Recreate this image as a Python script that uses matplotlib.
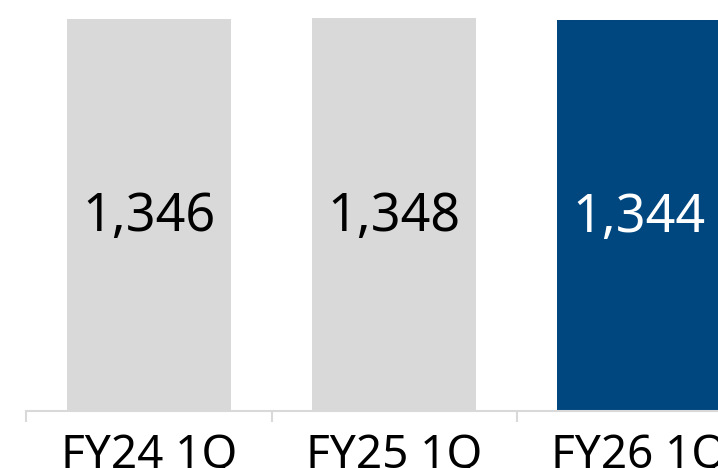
import matplotlib
matplotlib.use('Agg')
from matplotlib import pyplot as plt

categories = ['FY24 1Q', 'FY25 1Q', 'FY26 1Q']
values = [1346, 1348, 1344]
bar_colors = ['#d9d9d9', '#d9d9d9', '#00467f']
label_colors = ['#000000', '#000000', '#ffffff']

plt.rcParams['font.family'] = ['Noto Sans', 'DejaVu Sans']

fig = plt.figure(figsize=(7.18, 4.68), dpi=100)
# axes runs past the right edge of the figure, like the reference crop
ax = fig.add_axes([26.5 / 718, 57 / 468, 735 / 718, 411 / 468])

x = range(len(categories))
ax.bar(x, values, width=0.67, color=bar_colors)
for i, v in enumerate(values):
	ax.annotate(f'{v:,}', (i, v / 2), xytext=(0, -2), textcoords='offset points',
		ha='center', va='center', fontsize=37.5, color=label_colors[i])

ax.set_xlim(-0.5, 2.5)
ax.set_ylim(0, 1346 * 411 / 392)
ax.set_xticks([-0.5, 0.5, 1.5, 2.5], minor=False)
ax.set_xticklabels([])
ax.set_xticks(list(x), minor=True)
ax.set_xticklabels(categories, minor=True, fontsize=33)
ax.tick_params(axis='x', which='major', length=8, width=1.5, color='#d9d9d9')
ax.tick_params(axis='x', which='minor', length=0, pad=16)
ax.set_yticks([])
for s in ['top', 'right', 'left']:
	ax.spines[s].set_visible(False)
ax.spines['bottom'].set_color('#d9d9d9')
ax.spines['bottom'].set_linewidth(1.5)

fig.savefig('out.png', dpi=100)
